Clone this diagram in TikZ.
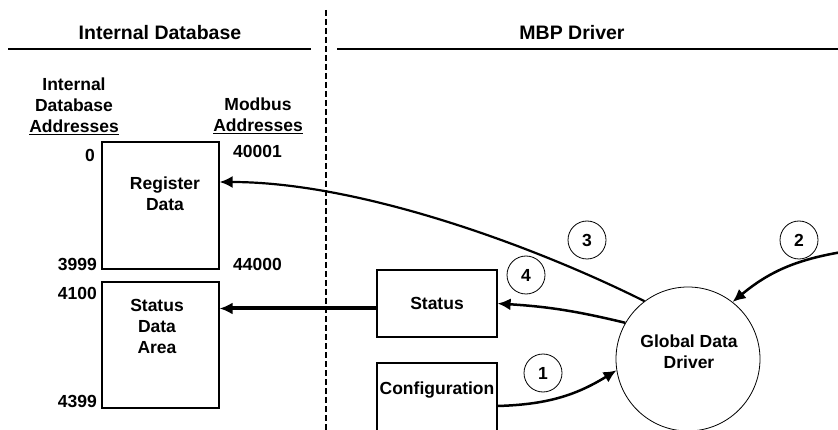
\documentclass[tikz,border=0pt]{standalone}
\usepackage{fontspec}
\setmainfont{Liberation Sans}
\usetikzlibrary{arrows.meta,positioning,shapes}

\begin{document}
\begin{tikzpicture}[
    x=1pt, y=-1pt,
    every node/.style={font=\fontsize{17.5}{21}\selectfont\bfseries},
    head/.style={font=\fontsize{19.5}{23}\selectfont\bfseries},
    membox/.style={rectangle, draw, line width=1.2pt, minimum width=117pt, minimum height=127pt, inner sep=0pt},
    drvbox/.style={rectangle, draw, line width=1.2pt, minimum width=120pt, minimum height=67pt, inner sep=0pt},
    addr/.style={inner sep=0pt, align=center},
    numcirc/.style={circle, draw, line width=0.8pt, minimum size=38pt, inner sep=0pt},
    arrow/.style={-{Latex[length=13pt,width=12pt]}, line width=2.5pt}
]
\useasboundingbox (0,0) rectangle (838,430);
\clip (0,0) rectangle (838,430);

% Headers and divider
\node[head] (dbhead) at (160,33) {Internal Database};
\node[head] (mbphead) at (572,33) {MBP Driver};
\draw[line width=1.5pt] (8,49) -- (311,49);
\draw[line width=1.5pt] (337,49) -- (838,49);
\draw[line width=2.6pt, dash pattern=on 6pt off 3pt] (326,10) -- (326,440);

% Column titles
\node[addr] (dbaddr) at (74,106) {Internal\\Database\\\underline{Addresses}};
\node[addr] (mbaddr) at (258,116) {Modbus\\\underline{Addresses}};

% Internal database areas
\node[membox] (regdata) at (160.5,205.5) {};
\node[addr] (regtext) at (165,193.5) {Register\\Data};
\node[membox, minimum height=126pt] (statusarea) at (160.5,345) {};
\node[addr] (areatext) at (157,326) {Status\\Data\\Area};

% Address numbers
\node[addr, anchor=east] (a0) at (95,155) {0};
\node[addr, anchor=east] (a3999) at (97,264) {3999};
\node[addr, anchor=east] (a4100) at (97,293) {4100};
\node[addr, anchor=east] (a4399) at (97,401) {4399};
\node[addr, anchor=west] (m40001) at (233,151) {40001};
\node[addr, anchor=west] (m44000) at (233,264) {44000};

% Driver blocks
\node[drvbox] (statusbox) at (437,303.5) {Status};
\node[drvbox, minimum height=86pt] (config) at (437,406) {};
\node[addr] (configtext) at (437,390) {Configuration};
\node[circle, draw, line width=0.8pt, minimum size=144pt, inner sep=0pt] (gdd) at (688,359) {};
\node[addr] (gddtext) at (689,352) {Global Data\\Driver};
\coordinate (mbpin) at (842,252);

% Step numbers
\node[numcirc] (n1) at (543,373) {1};
\node[numcirc] (n2) at (799,240) {2};
\node[numcirc] (n3) at (587,240) {3};
\node[numcirc] (n4) at (526,275) {4};

% Arrows
\draw[arrow] (config.east) to[bend right=15] (gdd.189);
\draw[arrow] (mbpin) to[bend right=15] (gdd.52);
\draw[arrow, line width=2.2pt] (gdd.127) .. controls +(-110,-55) and +(140,0) .. ([yshift=23.5pt]regdata.east);
\draw[arrow] (gdd.150) to[bend right=5] (statusbox.east);
\draw[arrow, line width=4pt] ([yshift=-5pt]statusbox.west) -- ([yshift=-5pt]statusbox.west -| statusarea.east);

\end{tikzpicture}
\end{document}
